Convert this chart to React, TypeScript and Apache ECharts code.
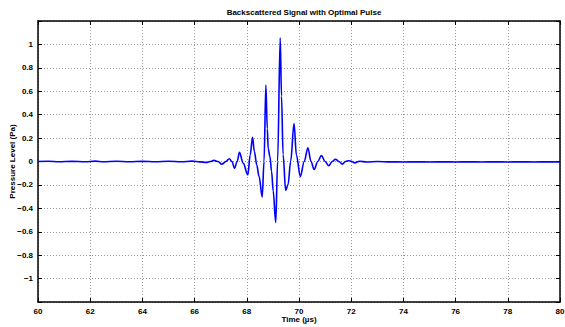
import React, { useEffect, useRef } from "react";
import * as echarts from "echarts";

const title = "Backscattered Signal with Optimal Pulse";
const xName = "Time (µs)";
const yName = "Pressure Level (Pa)";

const timeUs = [
  60.0, 60.4, 60.8, 61.3, 61.8, 62.2, 62.5, 63.0, 63.5, 64.0, 64.5, 65.0, 65.5, 65.9, 66.2,
  66.45, 66.6, 66.74, 66.9, 67.04, 67.2, 67.33, 67.43, 67.53, 67.63, 67.72, 67.86, 68.04,
  68.13, 68.22, 68.29, 68.38, 68.47, 68.59, 68.66, 68.73, 68.785, 68.82, 68.886, 68.95,
  69.01, 69.11, 69.18, 69.28, 69.33, 69.39, 69.49, 69.58, 69.68, 69.81, 69.9, 70.05,
  70.2, 70.34, 70.46, 70.58, 70.72, 70.86, 71.0, 71.14, 71.27, 71.4, 71.53, 71.66, 71.78,
  71.91, 72.02, 72.13, 72.32, 72.6, 73.0, 73.5, 74.0, 74.5, 75.0, 75.5, 76.0, 76.5, 77.0,
  77.5, 78.0, 78.5, 79.0, 79.5, 80.0,
];

// pressure (Pa) at each time
const pressurePa = [
  0.0, 0.002, -0.002, 0.001, -0.002, 0.003, -0.002, 0.002, -0.002, 0.001, -0.002, 0.002,
  -0.002, 0.003, -0.003, -0.008, 0.0, 0.01, 0.0, -0.023, 0.0, 0.024, 0.0, -0.058, 0.0,
  0.079, -0.014, -0.114, 0.056, 0.206, 0.085, -0.028, -0.127, -0.304, 0.0, 0.654, 0.28,
  0.11, 0.042, -0.085, -0.25, -0.521, 0.0, 1.056, 0.56, 0.06, -0.248, -0.197, 0.0, 0.324,
  0.056, -0.128, 0.0, 0.117, 0.0, -0.068, 0.0, 0.05, 0.0, -0.036, 0.0, 0.019, 0.0, -0.022,
  0.0, 0.007, 0.0, -0.012, 0.002, -0.004, 0.0, -0.003, -0.004, -0.003, -0.004, -0.003,
  -0.004, -0.003, -0.004, -0.003, -0.004, -0.003, -0.004, -0.003, -0.004,
];

const xTicks = [60, 62, 64, 66, 68, 70, 72, 74, 76, 78, 80];
const yTicks = [-1, -0.8, -0.6, -0.4, -0.2, 0, 0.2, 0.4, 0.6, 0.8, 1];

const FONT = "'Liberation Sans', Arial, Helvetica, sans-serif";

export default function App() {
  const ref = useRef<HTMLDivElement>(null);

  useEffect(() => {
    if (!ref.current) return;
    const chart = echarts.init(ref.current, undefined, { renderer: "svg" });
    const data = timeUs.map((t, i) => [t, pressurePa[i]]);
    const axisLine = { show: true, onZero: false, lineStyle: { color: "#000", width: 1.5 } };
    const tick = { show: true, inside: true, length: 4, lineStyle: { color: "#000", width: 1 } };
    const fmtY = (v: number) => {
      const r = Math.round(v * 10) / 10;
      if (!yTicks.some((t) => Math.abs(t - r) < 1e-6)) return "";
      if (r === 0) return "0";
      return (r < 0 ? "\u2212" : "") + String(Math.abs(r));
    };
    const fmtX = (v: number) => {
      const r = Math.round(v);
      return xTicks.includes(r) ? String(r) : "";
    };
    chart.setOption({
      animation: false,
      backgroundColor: "#fff",
      textStyle: { fontFamily: FONT },
      title: {
        text: title,
        left: 299,
        top: 3,
        textAlign: "center",
        textStyle: { fontSize: 8, fontWeight: "bold", color: "#000", fontFamily: FONT },
      },
      grid: { left: 38, right: 5, top: 21, bottom: 25, containLabel: false, outerBoundsMode: "none" },
      xAxis: [
        {
          type: "value",
          min: 60,
          max: 80,
          interval: 2,
          position: "bottom",
          name: xName,
          nameLocation: "middle",
          nameGap: 13,
          nameMoveOverlap: false,
          nameTextStyle: { fontSize: 8, fontWeight: "bold", color: "#000", fontFamily: FONT },
          axisLine,
          axisTick: tick,
          axisLabel: {
            fontSize: 8,
            fontWeight: "bold",
            color: "#000",
            margin: 5,
            fontFamily: FONT,
            formatter: fmtX,
          },
          splitLine: { show: true, lineStyle: { color: "#9a9a9a", type: [1, 2], width: 1 } },
        },
        {
          type: "value",
          min: 60,
          max: 80,
          interval: 2,
          position: "top",
          axisLine,
          axisTick: tick,
          axisLabel: { show: false },
          splitLine: { show: false },
        },
      ],
      yAxis: [
        {
          type: "value",
          min: -1.2,
          max: 1.2,
          interval: 0.2,
          position: "left",
          name: yName,
          nameLocation: "middle",
          nameGap: 22,
          nameMoveOverlap: false,
          nameTextStyle: { fontSize: 8, fontWeight: "bold", color: "#000", fontFamily: FONT },
          axisLine,
          axisTick: tick,
          axisLabel: {
            fontSize: 8,
            fontWeight: "bold",
            color: "#000",
            margin: 5,
            fontFamily: FONT,
            formatter: fmtY,
          },
          splitLine: { show: true, lineStyle: { color: "#9a9a9a", type: [1, 2], width: 1 } },
        },
        {
          type: "value",
          min: -1.2,
          max: 1.2,
          interval: 0.2,
          position: "right",
          axisLine,
          axisTick: tick,
          axisLabel: { show: false },
          splitLine: { show: false },
        },
      ],
      series: [
        {
          type: "line",
          data,
          xAxisIndex: 0,
          yAxisIndex: 0,
          showSymbol: false,
          symbol: "none",
          smooth: 0.35,
          smoothMonotone: "x",
          lineStyle: { color: "#0000ff", width: 1.6 },
          clip: true,
        },
      ],
    });
    return () => chart.dispose();
  }, []);

  return (
    <div
      ref={ref}
      style={{ position: "fixed", left: 0, top: 0, width: 565, height: 327, background: "#fff" }}
    />
  );
}
